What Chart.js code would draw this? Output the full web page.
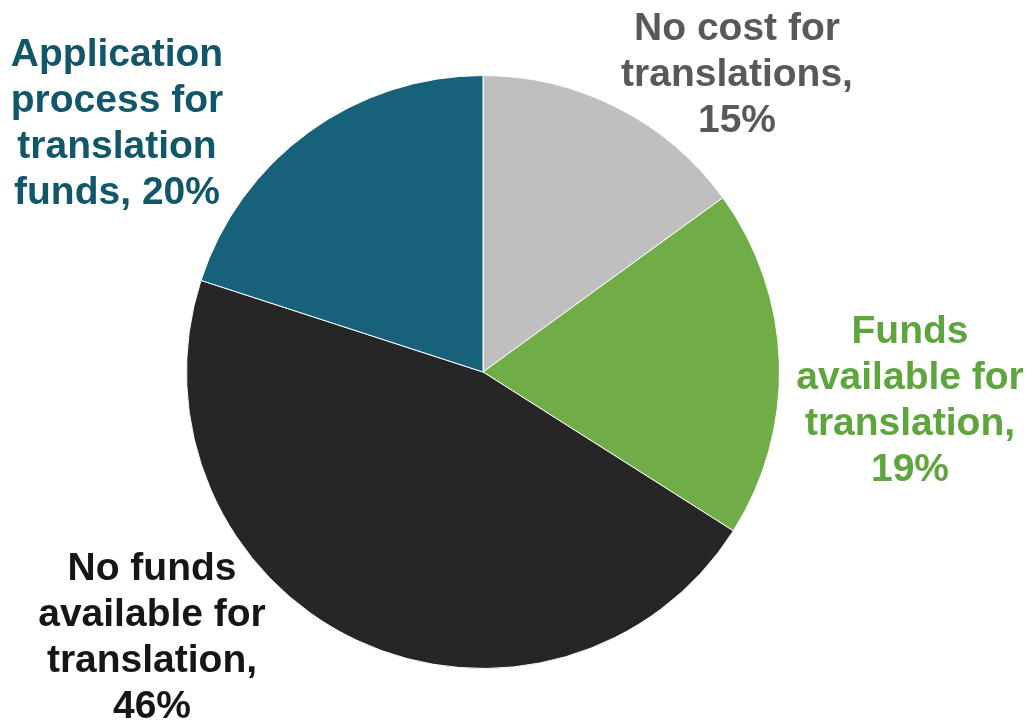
<!DOCTYPE html>
<html>
<head>
<meta charset="utf-8">
<script src="https://cdn.jsdelivr.net/npm/chart.js@4"></script>
<style>
  html, body { margin: 0; padding: 0; background: #fff; }
  #wrap { width: 1036px; height: 723px; position: relative; }
</style>
</head>
<body>
<div id="wrap"><canvas id="chart"></canvas></div>
<script>
// slices, clockwise from 12 o'clock
const categories = [
  ['No cost for', 'translations,', '15%'],
  ['Funds', 'available for', 'translation,', '19%'],
  ['No funds', 'available for', 'translation,', '46%'],
  ['Application', 'process for', 'translation', 'funds, 20%']
];
const shares = [15, 19, 46, 20];

const sliceColors = ['#bfbfbf', '#70ad47', '#262626', '#17627a'];
const textColors = ['#595959', '#5ea53d', '#161616', '#12566a'];

// where each label block sits (centre x, first baseline y)
const labelAnchors = [
  { x: 737, y: 40 },
  { x: 910, y: 343 },
  { x: 152, y: 580 },
  { x: 117, y: 66 }
];

/** Draw the multi-line labels outside the pie */
const outsideLabels = {
  id: 'outsideLabels',
  afterDraw(chart) {
    const ctx = chart.ctx;
    ctx.save();
    ctx.font = 'bold 39px "Liberation Sans", Arial, sans-serif';
    ctx.textAlign = 'center';
    ctx.textBaseline = 'alphabetic';
    categories.forEach((lines, i) => {
      const a = labelAnchors[i];
      ctx.fillStyle = textColors[i];
      lines.forEach((ln, j) => ctx.fillText(ln, a.x, a.y + j * 46));
    });
    ctx.restore();
  }
};

new Chart(document.getElementById('chart'), {
  type: 'pie',
  data: {
    labels: categories.map(l => l.join(' ')),
    datasets: [{
      data: shares,
      backgroundColor: sliceColors,
      borderColor: '#ffffff',
      borderWidth: 1
    }]
  },
  options: {
    responsive: true,
    maintainAspectRatio: false,
    animation: false,
    layout: { padding: { left: 186, right: 256, top: 75, bottom: 54 } },
    plugins: {
      legend: { display: false },
      tooltip: { enabled: false }
    }
  },
  plugins: [outsideLabels]
});
</script>
</body>
</html>
